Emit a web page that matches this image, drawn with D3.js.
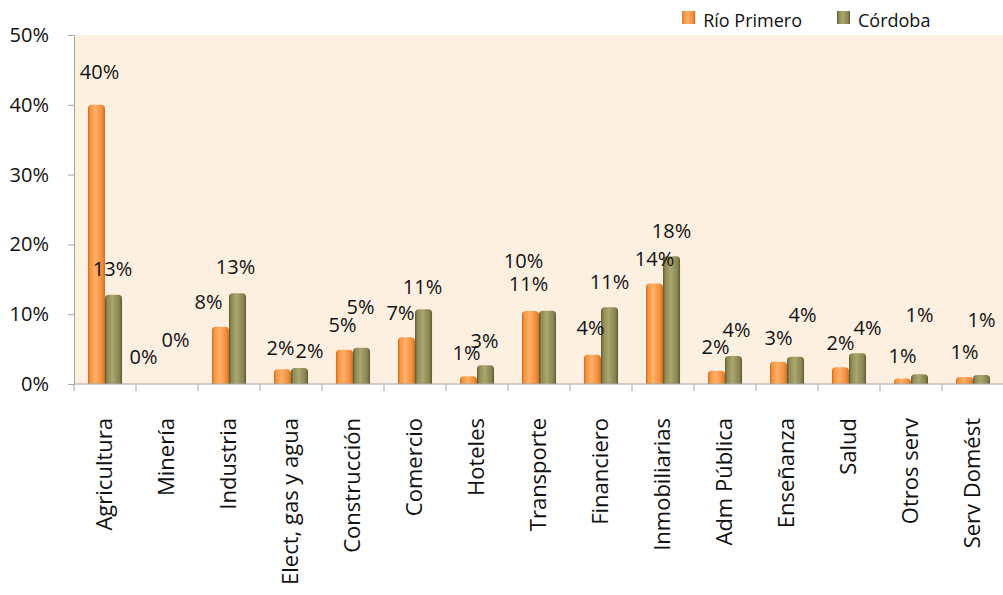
<!DOCTYPE html>
<html>
<head>
<meta charset="utf-8">
<script src="https://cdn.jsdelivr.net/npm/d3@7"></script>
<style>
  body { margin: 0; background: #fff; }
  text { font-family: "Open Sans", sans-serif; fill: #111; }
</style>
</head>
<body>
<div id="chart"></div>
<script>
// data (percent of employment by sector)
const categories = ["Agricultura", "Minería", "Industria", "Elect, gas y agua", "Construcción",
    "Comercio", "Hoteles", "Transporte", "Financiero", "Inmobiliarias",
    "Adm Pública", "Enseñanza", "Salud", "Otros serv", "Serv Domést"];
const seriesNames = ["Río Primero", "Córdoba"];
const rioPrimero = [40.0, 0, 8.2, 2.1, 4.9, 6.7, 1.1, 10.45, 4.2, 14.4, 1.9, 3.2, 2.4, 0.8, 1.0];
const cordoba = [12.8, 0, 13.0, 2.3, 5.2, 10.7, 2.7, 10.5, 11.0, 18.3, 4.0, 3.9, 4.4, 1.4, 1.3];
const yTicks = [0, 10, 20, 30, 40, 50];

// layout
const width = 1003, height = 595;
const plotLeft = 74, plotRight = 1004, plotTop = 35, plotBottom = 384;
const colors = { "Río Primero": ["#c96d25", "#f7963f", "#ffb06a", "#f28a35"],
                 "Córdoba": ["#5c5931", "#8f8b55", "#aaa66f", "#878350"] };

// manual data label nudges [dx, extra lift], like labels dragged in the original
const labelNudge = {
    "Río Primero": [[3, 8], [-15, 2], [-12, 0], [-2, -3], [-2, 0], [-6, -1], [-2, -1], [-7, 25],
                    [-2, 2], [0, 0], [-1, -1], [0, -1], [0, -1], [0, -2], [0, 0]],
    "Córdoba": [[-1, 1], [0, 19], [-2, 1], [10, -8], [-1, 16], [-1, -2], [-1, -1], [-19, 2],
                [0, 0], [0, 0], [3, 1], [7, 17], [10, 0], [0, 34], [0, 30]]
};

const series = seriesNames.map((name, i) => ({
    name,
    values: (i === 0 ? rioPrimero : cordoba).map((v, j) => ({ cat: categories[j], value: v, idx: j }))
}));

const svg = d3.select("#chart").append("svg")
    .attr("width", width)
    .attr("height", height);

const defs = svg.append("defs");
seriesNames.forEach((name, i) => {
    const g = defs.append("linearGradient")
        .attr("id", `grad${i}`)
        .attr("x1", "0%").attr("x2", "100%").attr("y1", "0%").attr("y2", "0%");
    const c = colors[name];
    [[0, c[0]], [0.14, c[1]], [0.45, c[2]], [0.85, c[3]], [1, c[0]]].forEach(s => {
        g.append("stop").attr("offset", s[0]).attr("stop-color", s[1]);
    });
});

const x = d3.scaleBand()
    .domain(categories)
    .range([plotLeft, plotRight])
    .paddingInner(0)
    .paddingOuter(0);

const xInner = d3.scaleBand()
    .domain(seriesNames)
    .range([0, x.bandwidth()])
    .paddingInner(0)
    .paddingOuter(0.82);

const y = d3.scaleLinear()
    .domain([0, 50])
    .range([plotBottom, plotTop]);

// plot background
svg.append("rect")
    .attr("x", plotLeft)
    .attr("y", plotTop)
    .attr("width", plotRight - plotLeft)
    .attr("height", plotBottom - plotTop)
    .attr("fill", "#fdf0e1");

// bars with rounded tops
const barPath = (x0, w, top, bottom) => {
    const r = Math.min(4, (bottom - top), w / 2);
    return `M${x0},${bottom} L${x0},${top + r} Q${x0},${top} ${x0 + r},${top} ` +
        `L${x0 + w - r},${top} Q${x0 + w},${top} ${x0 + w},${top + r} L${x0 + w},${bottom} Z`;
};

series.forEach((s, i) => {
    svg.append("g")
        .attr("class", "series")
        .selectAll("path")
        .data(s.values.filter(d => d.value > 0))
        .join("path")
            .attr("d", d => barPath(x(d.cat) + xInner(s.name), xInner.bandwidth(), y(d.value), plotBottom))
            .attr("fill", `url(#grad${i})`);
});

// y axis
const yAxis = d3.axisLeft(y)
    .tickValues(yTicks)
    .tickFormat(d => d + "%")
    .tickSize(6)
    .tickPadding(19);

svg.append("g")
    .attr("class", "y-axis")
    .attr("transform", `translate(${plotLeft},0)`)
    .call(yAxis)
    .call(g => g.select(".domain").attr("stroke", "#a6a6a6"))
    .call(g => g.selectAll(".tick line").attr("stroke", "#a6a6a6"))
    .call(g => g.selectAll(".tick text")
        .style("font-size", "20px")
        .style("font-family", "'Open Sans', sans-serif")
        .attr("fill", "#111"));

// x axis: line plus ticks between categories
const xAxisG = svg.append("g").attr("class", "x-axis");
xAxisG.append("line")
    .attr("x1", plotLeft).attr("x2", plotRight)
    .attr("y1", plotBottom).attr("y2", plotBottom)
    .attr("stroke", "#a6a6a6");
xAxisG.selectAll(".sep")
    .data(categories)
    .join("line")
        .attr("class", "sep")
        .attr("x1", d => x(d)).attr("x2", d => x(d))
        .attr("y1", plotBottom).attr("y2", plotBottom + 7)
        .attr("stroke", "#a6a6a6");
xAxisG.selectAll(".cat")
    .data(categories)
    .join("text")
        .attr("class", "cat")
        .attr("transform", d => `translate(${x(d) + x.bandwidth() / 2 - 1},418) rotate(-90)`)
        .attr("text-anchor", "end")
        .attr("dy", "0.36em")
        .style("font-size", "22px")
        .text(d => d);

// data labels
series.forEach(s => {
    svg.append("g")
        .attr("class", "labels")
        .selectAll("text")
        .data(s.values)
        .join("text")
            .attr("x", d => x(d.cat) + xInner(s.name) + xInner.bandwidth() / 2 + labelNudge[s.name][d.idx][0])
            .attr("y", d => y(d.value) - 25 - labelNudge[s.name][d.idx][1])
            .attr("dy", "0.36em")
            .attr("text-anchor", "middle")
            .style("font-size", "20px")
            .text(d => Math.round(d.value) + "%");
});

// legend
const legend = svg.append("g").attr("class", "legend");
const cordText = legend.append("text")
    .attr("x", 858).attr("y", 27)
    .style("font-size", "18px")
    .text(seriesNames[1]);
legend.append("rect")
    .attr("x", 837).attr("y", 11).attr("width", 13).attr("height", 13)
    .attr("fill", "url(#grad1)");
const rioText = legend.append("text")
    .attr("x", 802).attr("y", 27)
    .attr("text-anchor", "end")
    .style("font-size", "18px")
    .text(seriesNames[0]);
const rioStart = 802 - rioText.node().getComputedTextLength();
legend.append("rect")
    .attr("x", rioStart - 21).attr("y", 11).attr("width", 13).attr("height", 13)
    .attr("fill", "url(#grad0)");
</script>
</body>
</html>
